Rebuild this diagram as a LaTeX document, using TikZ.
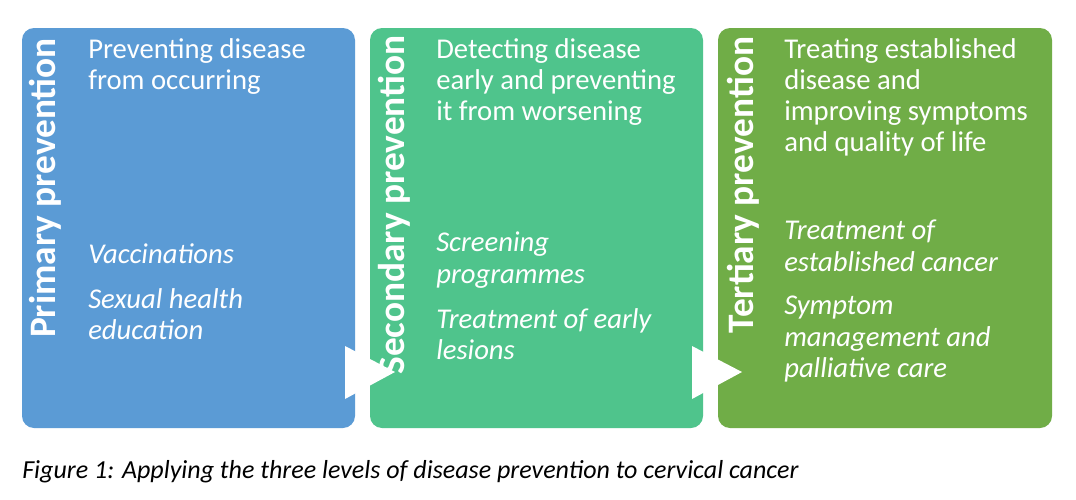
\documentclass[tikz,border=0pt]{standalone}
\usepackage{fontspec}
\setmainfont{Carlito}
\begin{document}
\begin{tikzpicture}[x=0.75pt,y=-0.75pt,
  panel/.style={rounded corners=9pt,draw=none},
  vlab/.style={rotate=90,text=white,font=\fontsize{28}{30}\selectfont\bfseries,anchor=center},
  head/.style={text=white,font=\fontsize{21.5}{23.4}\selectfont,align=left,anchor=north west,inner sep=0},
  item/.style={text=white,font=\fontsize{21.5}{23.4}\selectfont\itshape,align=left,anchor=north west,inner sep=0},
  tri/.style={fill=white,draw=none}]
\useasboundingbox (0,0) rectangle (1076,500);
\fill[white] (0,0) rectangle (1076,500);
\definecolor{cb}{HTML}{5B9BD5}
\definecolor{cg}{HTML}{4FC48C}
\definecolor{co}{HTML}{70AD47}
\fill[panel,cb] (22,28) rectangle (355,428);
\fill[panel,cg] (370,28) rectangle (703,428);
\fill[panel,co] (718,28) rectangle (1052,428);
\node[vlab] (v1) at (45,188) {Primary prevention};
\node[vlab] (v2) at (394,205) {Secondary prevention};
\node[vlab] (v3) at (743,185) {Tertiary prevention};
\node[head] (h1) at (88,38) {Preventing disease\\from occurring};
\node[head] (h2) at (436,38) {Detecting disease\\early and preventing\\it from worsening};
\node[head] (h3) at (784,38) {Treating established\\disease and\\improving symptoms\\and quality of life};
\node[item] (a1) at (88,243) {Vaccinations};
\node[item] (b1) at (88,288) {Sexual health\\education};
\node[item] (a2) at (436,232) {Screening\\programmes};
\node[item] (b2) at (436,308) {Treatment of early\\lesions};
\node[item] (a3) at (784,220) {Treatment of\\established cancer};
\node[item] (b3) at (784,296) {Symptom\\management and\\palliative care};
\fill[tri] (345,346) -- (395,372) -- (345,399) -- cycle;
\fill[tri] (692,346) -- (742,372) -- (692,399) -- cycle;
\node[anchor=base west,inner sep=0,font=\fontsize{19.5}{22}\selectfont\itshape] (cap) at (22,478) {Figure 1: Applying the three levels of disease prevention to cervical cancer};
\end{tikzpicture}
\end{document}
